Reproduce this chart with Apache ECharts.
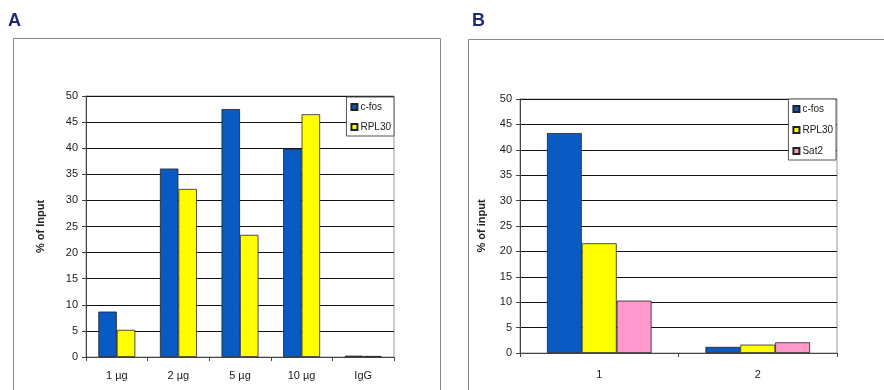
<!DOCTYPE html>
<html>
<head>
<meta charset="utf-8">
<script src="https://cdn.jsdelivr.net/npm/echarts@6/dist/echarts.min.js"></script>
<style>
html,body{margin:0;padding:0;background:#fff;}
#c{width:884px;height:390px;}
</style>
</head>
<body>
<div id="c"></div>
<script>
// Panel A data
const catsA = ['1 µg', '2 µg', '5 µg', '10 µg', 'IgG'];
const cfosA = [8.7, 36.1, 47.5, 39.9, 0.25];
const rpl30A = [5.2, 32.2, 23.4, 46.5, 0.2];
// Panel B data
const catsB = ['1', '2'];
const cfosB = [43.3, 1.2];
const rpl30B = [21.6, 1.65];
const sat2B = [10.3, 2.1];
// Y axis ticks
const yMin = 0, yMax = 50, yStep = 5;

const BLUE = '#0a5ac4', YELLOW = '#ffff00', PINK = '#ff99cc';
const FONT = '"Liberation Sans", Arial, sans-serif';

const chart = echarts.init(document.getElementById('c'), null, {renderer: 'canvas'});

function yAxis(gridIndex, name, nameGap) {
  return {
    type: 'value', gridIndex, min: yMin, max: yMax, interval: yStep,
    name, nameLocation: 'middle', nameRotate: 90, nameGap,
    nameTextStyle: {fontFamily: FONT, fontSize: 11, fontWeight: 'bold', color: '#222'},
    axisLine: {show: true, lineStyle: {color: '#444', width: 1}},
    axisTick: {show: true, length: 4, lineStyle: {color: '#444'}},
    axisLabel: {fontFamily: FONT, fontSize: 11, color: '#222', margin: 8},
    splitLine: {show: true, lineStyle: {color: '#111', width: 1}}
  };
}
function xAxis(gridIndex, data, margin) {
  return {
    type: 'category', gridIndex, data,
    axisLine: {show: true, lineStyle: {color: '#444', width: 1}},
    axisTick: {show: true, length: 4, alignWithLabel: false, lineStyle: {color: '#444'}},
    axisLabel: {fontFamily: FONT, fontSize: 11, color: '#222', margin},
    splitLine: {show: false}
  };
}
function bar(name, data, color, idx, gap) {
  return {
    name, type: 'bar', data, xAxisIndex: idx, yAxisIndex: idx,
    barGap: '0%', barCategoryGap: gap, barMinHeight: 0,
    itemStyle: {color, borderColor: '#222', borderWidth: 0.8},
    emphasis: {disabled: true}, animation: false
  };
}
function legend(data, right, top, gap) {
  return {
    data, orient: 'vertical', right, top,
    icon: 'rect', itemWidth: 6, itemHeight: 6, itemGap: gap,
    padding: [5, 3, 4, 4],
    borderColor: '#555', borderWidth: 1, backgroundColor: '#fff',
    textStyle: {fontFamily: FONT, fontSize: 10, color: '#222', padding: [0,0,0,-2]},
    selectedMode: false
  };
}

chart.setOption({
  animation: false,
  grid: [
    {left: 86, right: 490, top: 96, bottom: 33, show: true, borderColor: '#999', borderWidth: 1, backgroundColor: 'transparent'},
    {left: 520, right: 47, top: 99, bottom: 37, show: true, borderColor: '#999', borderWidth: 1, backgroundColor: 'transparent'}
  ],
  xAxis: [xAxis(0, catsA, 13), xAxis(1, catsB, 16)],
  yAxis: [yAxis(0, '% of Input', 40), yAxis(1, '% of input', 33)],
  legend: [
    legend(['c-fos', 'RPL30'], 884 - 394, 97, 10),
    legend(['c-fos', 'RPL30', 'Sat2'], 884 - 836, 99, 11)
  ],
  series: [
    bar('c-fos', cfosA, BLUE, 0, '40%'),
    bar('RPL30', rpl30A, YELLOW, 0, '40%'),
    bar('c-fos', cfosB, BLUE, 1, '34%'),
    bar('RPL30', rpl30B, YELLOW, 1, '34%'),
    bar('Sat2', sat2B, PINK, 1, '34%')
  ],
  graphic: [
    {type: 'rect', shape: {x: 13.5, y: 38.5, width: 427, height: 360}, style: {fill: 'none', stroke: '#888', lineWidth: 1}, z: -1},
    {type: 'rect', shape: {x: 468.5, y: 39.5, width: 430, height: 360}, style: {fill: 'none', stroke: '#888', lineWidth: 1}, z: -1},
    {type: 'text', left: 8, top: 12, style: {text: 'A', font: 'bold 18px ' + FONT, fill: '#1c2a78'}},
    {type: 'text', left: 472, top: 12, style: {text: 'B', font: 'bold 18px ' + FONT, fill: '#1c2a78'}}
  ]
});
</script>
</body>
</html>
